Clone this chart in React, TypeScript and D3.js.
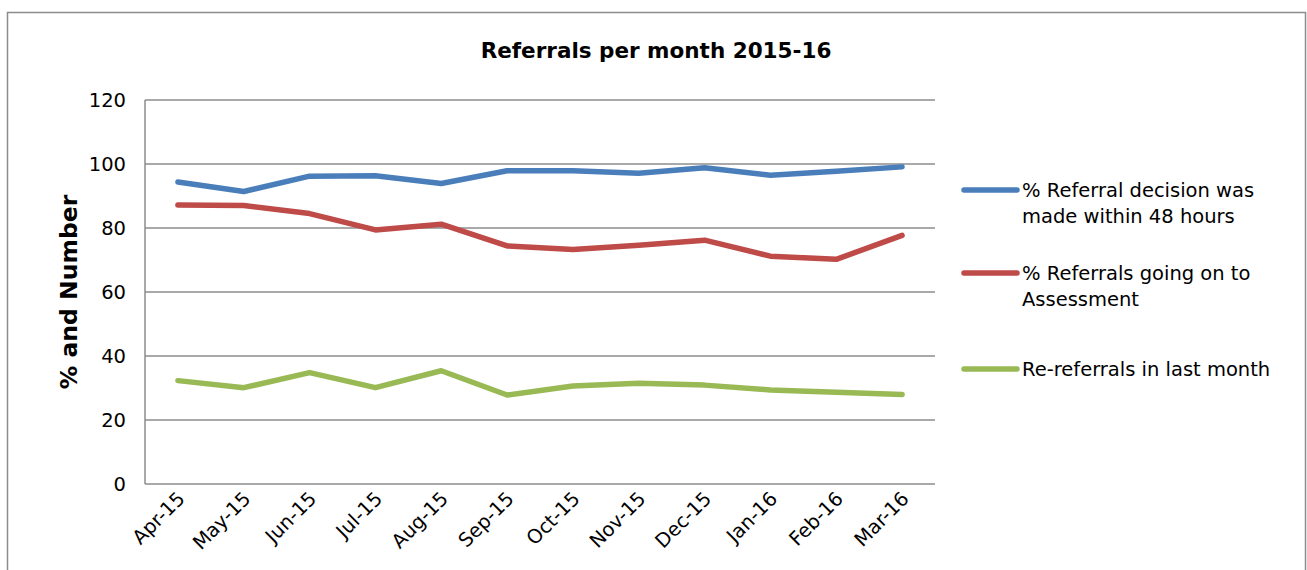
import { useEffect, useRef } from 'react';
import * as d3 from 'd3';

const width = 1307;
const height = 570;

const months = ['Apr-15', 'May-15', 'Jun-15', 'Jul-15', 'Aug-15', 'Sep-15', 'Oct-15', 'Nov-15', 'Dec-15', 'Jan-16', 'Feb-16', 'Mar-16'];
const decisionIn48h = [94.4, 91.4, 96.2, 96.3, 93.9, 97.9, 97.9, 97.1, 98.8, 96.5, 97.7, 99.1];
const goingToAssessment = [87.2, 87.0, 84.5, 79.4, 81.2, 74.4, 73.3, 74.6, 76.2, 71.2, 70.2, 77.7];
const reReferrals = [32.3, 30.1, 34.8, 30.1, 35.4, 27.8, 30.6, 31.5, 30.9, 29.4, 28.7, 28.0];
const yTicks = [0, 20, 40, 60, 80, 100, 120];

const seriesNames = [
    ['% Referral decision was', 'made within 48 hours'],
    ['% Referrals going on to', 'Assessment'],
    ['Re-referrals in last month'],
];
const colors = ['#4a7ebb', '#be4b48', '#98b954'];

const font = 'DejaVu Sans, sans-serif';

export default function App() {
    const ref = useRef<SVGSVGElement>(null);

    useEffect(() => {
        const svg = d3.select(ref.current);
        svg.selectAll('*').remove();

        const left = 145, right = 935, top = 100, bottom = 484;

        const x = d3.scaleBand().domain(months).range([left, right]);
        const y = d3.scaleLinear().domain([0, 120]).range([bottom, top]);
        const cx = (m: string) => (x(m) as number) + x.bandwidth() / 2;

        // outer frame
        svg.append('rect')
            .attr('x', 7.5).attr('y', 12.5)
            .attr('width', 1298).attr('height', 620)
            .attr('fill', 'white').attr('stroke', '#8c8c8c').attr('stroke-width', 1.5);

        svg.append('text')
            .attr('x', 656).attr('y', 58)
            .attr('text-anchor', 'middle')
            .attr('font-family', font).attr('font-weight', 'bold').attr('font-size', 21.5)
            .attr('fill', '#000')
            .text('Referrals per month 2015-16');

        // gridlines
        svg.append('g').selectAll('line').data(yTicks).join('line')
            .attr('x1', left).attr('x2', right)
            .attr('y1', (d) => y(d)).attr('y2', (d) => y(d))
            .attr('stroke', '#8c8c8c').attr('stroke-width', 1.5);

        svg.append('line')
            .attr('x1', left).attr('x2', left)
            .attr('y1', y(120)).attr('y2', y(0))
            .attr('stroke', '#8c8c8c').attr('stroke-width', 1.5);

        svg.append('g').selectAll('text').data(yTicks).join('text')
            .attr('x', 126).attr('y', (d) => y(d) + 7)
            .attr('text-anchor', 'end')
            .attr('font-family', font).attr('font-size', 19.5).attr('fill', '#000')
            .text((d) => d);

        svg.append('text')
            .attr('transform', 'translate(77,292) rotate(-90)')
            .attr('text-anchor', 'middle')
            .attr('font-family', font).attr('font-weight', 'bold').attr('font-size', 23.5)
            .attr('fill', '#000')
            .text('% and Number');

        svg.append('g').selectAll('text').data(months).join('text')
            .attr('transform', (d) => `translate(${cx(d) + 8},${bottom + 16}) rotate(-45)`)
            .attr('text-anchor', 'end')
            .attr('font-family', font).attr('font-size', 19.5).attr('fill', '#000')
            .text((d) => d);

        const line = d3.line<number>()
            .x((_, i) => cx(months[i]))
            .y((d) => y(d));

        [decisionIn48h, goingToAssessment, reReferrals].forEach((s, i) => {
            svg.append('path')
                .datum(s)
                .attr('d', line)
                .attr('fill', 'none')
                .attr('stroke', colors[i])
                .attr('stroke-width', 5.5)
                .attr('stroke-linejoin', 'round')
                .attr('stroke-linecap', 'round');
        });

        // legend
        const legendY = [190, 273, 369];
        seriesNames.forEach((lines, i) => {
            const g = svg.append('g');
            g.append('line')
                .attr('x1', 964).attr('x2', 1017)
                .attr('y1', legendY[i]).attr('y2', legendY[i])
                .attr('stroke', colors[i]).attr('stroke-width', 5.5)
                .attr('stroke-linecap', 'round');
            g.selectAll('text').data(lines).join('text')
                .attr('x', 1022)
                .attr('y', (_, j) => legendY[i] + 7 + j * 26)
                .attr('font-family', font).attr('font-size', 19.5).attr('fill', '#000')
                .text((d) => d);
        });
    }, []);

    return (
        <svg
            ref={ref}
            width={width}
            height={height}
            style={{ position: 'absolute', left: 0, top: 0, background: 'white' }}
        />
    );
}
